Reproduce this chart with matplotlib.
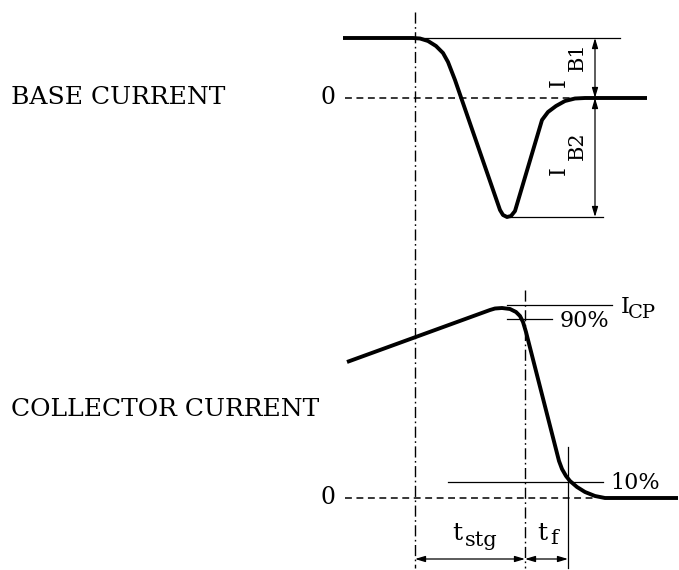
import matplotlib
matplotlib.use("Agg")
import matplotlib.pyplot as plt

plt.rcParams['font.family'] = ['DejaVu Serif']

# ---- waveform data (diagram units: x = time, y = level, pixel-like scale) ----
base_t = [343, 413, 420, 428, 436, 443, 448, 455, 500, 503, 507, 511, 515,
          542, 548, 556, 565, 575, 585, 647]
base_i = [38, 38, 38.5, 41, 46, 53, 62, 80, 210, 215, 217, 216, 211,
          120, 112, 106, 101, 98.5, 98, 98]

coll_t = [347, 490, 495, 502, 510, 516, 520, 523, 526, 559, 562, 566, 570,
          577, 585, 595, 605, 678]
coll_i = [362, 310, 308.5, 308, 309, 312, 316, 322, 332, 461, 469, 476, 481,
          487, 492, 496, 498, 498]

# reference levels
base_zero = 98
base_ib1 = 38
base_ib2 = 217
coll_zero = 498
coll_icp = 305
coll_90 = 319
coll_10 = 482

# time markers
t_start = 415
t_90 = 525
t_10 = 568

labels_left = ["BASE CURRENT", "COLLECTOR CURRENT"]
pct_labels = ["90%", "10%"]

fig = plt.figure(figsize=(6.79, 5.70), dpi=100)
ax = fig.add_axes([0, 0, 1, 1])
ax.set_xlim(0, 679)
ax.set_ylim(570, 0)
ax.axis('off')

K = 'black'
thick = 2.8
thin = 0.9

# waveforms
ax.plot(base_t, base_i, color=K, lw=thick, solid_capstyle='butt', solid_joinstyle='round')
ax.plot(coll_t, coll_i, color=K, lw=thick, solid_capstyle='butt', solid_joinstyle='round')

# zero dashed lines
ax.plot([345, 595], [base_zero, base_zero], color=K, lw=1.1, ls=(0, (4.5, 3)))
ax.plot([345, 595], [coll_zero, coll_zero], color=K, lw=1.1, ls=(0, (4.5, 3)))

# dash-dot verticals
ax.plot([t_start, t_start], [12, 568], color=K, lw=1.0, ls=(0, (8, 2.5, 1.2, 2.5)))
ax.plot([t_90, t_90], [290, 568], color=K, lw=1.0, ls=(0, (8, 2.5, 1.2, 2.5)))

# base current reference lines
ax.plot([413, 620], [base_ib1, base_ib1], color=K, lw=thin)
ax.plot([510, 603], [base_ib2, base_ib2], color=K, lw=thin)

arr = dict(arrowstyle='<|-|>,head_length=0.6,head_width=0.18', color=K, lw=thin,
           shrinkA=0, shrinkB=0)
ax.annotate('', xy=(595, base_ib1), xytext=(595, base_zero), arrowprops=arr)
ax.annotate('', xy=(595, base_zero), xytext=(595, base_ib2), arrowprops=arr)

# I_B1 / I_B2 (rotated, composed)
ax.text(559, 83, 'I', rotation=90, ha='center', va='center', fontsize=16)
ax.text(577, 57, 'B1', rotation=90, ha='center', va='center', fontsize=15)
ax.text(559, 171, 'I', rotation=90, ha='center', va='center', fontsize=16)
ax.text(577, 146, 'B2', rotation=90, ha='center', va='center', fontsize=15)

# collector reference lines
ax.plot([507, 612], [coll_icp, coll_icp], color=K, lw=thin)
ax.plot([507, 552], [coll_90, coll_90], color=K, lw=thin)
ax.plot([448, 603], [coll_10, coll_10], color=K, lw=thin)
ax.plot([t_10, t_10], [447, 568], color=K, lw=thin)

ax.text(625, 307, 'I', ha='center', va='center', fontsize=16)
ax.text(642, 313, 'CP', ha='center', va='center', fontsize=14)
ax.text(584, 321, pct_labels[0], ha='center', va='center', fontsize=16)
ax.text(635, 483, pct_labels[1], ha='center', va='center', fontsize=16)

# time arrows
ax.annotate('', xy=(t_start, 559), xytext=(t_90, 559), arrowprops=arr)
ax.annotate('', xy=(t_90, 559), xytext=(t_10, 559), arrowprops=arr)
ax.text(457, 533, 't', ha='center', va='center', fontsize=18)
ax.text(481, 540, 'stg', ha='center', va='center', fontsize=15)
ax.text(542, 533, 't', ha='center', va='center', fontsize=18)
ax.text(554, 539, 'f', ha='center', va='center', fontsize=15)

# zero labels
ax.text(335, base_zero, '0', ha='right', va='center', fontsize=17)
ax.text(335, coll_zero, '0', ha='right', va='center', fontsize=17)

# left labels
ax.text(11, 97, labels_left[0], ha='left', va='center', fontsize=18)
ax.text(11, 410, labels_left[1], ha='left', va='center', fontsize=18)

fig.savefig('out.png', dpi=100)
